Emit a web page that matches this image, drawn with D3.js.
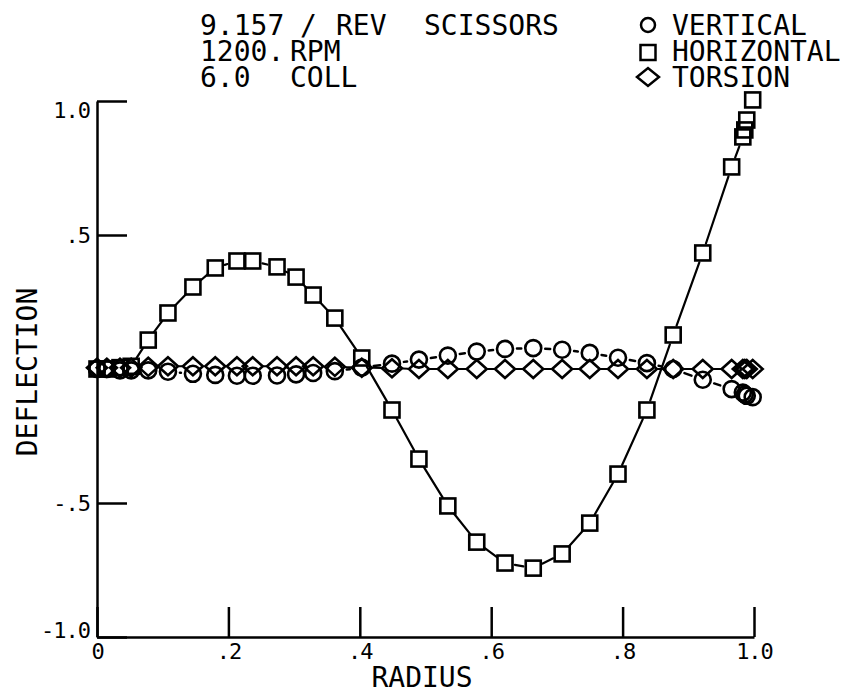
<!DOCTYPE html>
<html>
<head>
<meta charset="utf-8">
<script src="https://cdn.jsdelivr.net/npm/d3@7/dist/d3.min.js"></script>
<style>
body { margin: 0; background: #fff; }
text { font-family: "DejaVu Sans Mono", monospace; fill: #000; }
</style>
</head>
<body>
<svg id="chart" width="844" height="694"></svg>
<script>
// radial stations
var radius = [0, 0.015, 0.035, 0.052, 0.078, 0.108, 0.146, 0.180, 0.213, 0.237, 0.274, 0.303, 0.329, 0.362,
              0.403, 0.449, 0.490, 0.534, 0.578, 0.621, 0.664, 0.708, 0.750, 0.793, 0.837, 0.877, 0.922,
              0.966, 0.983, 0.986, 0.989, 0.998];
var vertical = [0, 0, -0.005, -0.005, -0.005, -0.01, -0.018, -0.022, -0.025, -0.025, -0.024, -0.02, -0.015, -0.008,
                0.005, 0.02, 0.035, 0.05, 0.065, 0.075, 0.078, 0.072, 0.06, 0.042, 0.022, 0.0, -0.04,
                -0.075, -0.088, -0.095, -0.1, -0.105];
var horizontal = [0, 0, 0.005, 0.01, 0.108, 0.209, 0.306, 0.377, 0.403, 0.403, 0.381, 0.343, 0.276, 0.190,
                  0.041, -0.153, -0.336, -0.511, -0.646, -0.724, -0.743, -0.690, -0.575, -0.392, -0.153, 0.127, 0.433,
                  0.754, 0.866, 0.892, 0.929, 1.004];
var torsion = [0.005, 0.005, 0.005, 0.005, 0.008, 0.01, 0.01, 0.01, 0.01, 0.01, 0.01, 0.01, 0.01, 0.008,
               0.005, 0.003, 0, 0, 0, 0, 0, 0, 0, 0, 0, 0, 0,
               0, 0, 0, 0, 0];

var xTicks = [0, 0.2, 0.4, 0.6, 0.8, 1.0];
var xTickLabels = ["0", ".2", ".4", ".6", ".8", "1.0"];
var yTicks = [-1, -0.5, 0.5, 1];
var yTickLabels = ["-1.0", "-.5", ".5", "1.0"];
var titleWords = [["9.157", "/", "REV", "SCISSORS"], ["1200.", "RPM"], ["6.0", "COLL"]];
var legendNames = ["VERTICAL", "HORIZONTAL", "TORSION"];

var svg = d3.select("#chart");
var x = d3.scaleLinear().domain([0, 1]).range([97, 754]);
var y = d3.scaleLinear().domain([-1, 1]).range([637, 101]);

// title block
var wordX = [[200, 300, 336, 424], [200, 290], [200, 290]];
var lineY = [35, 61, 87];
titleWords.forEach(function(words, i){
  words.forEach(function(w, j){
    svg.append("text").attr("x", wordX[i][j]).attr("y", lineY[i])
      .attr("font-size", 28).text(w);
  });
});

// legend
var legend = svg.append("g");
legendNames.forEach(function(name, i){
  legend.append("text").attr("x", 672).attr("y", lineY[i]).attr("font-size", 28).text(name);
});
var lx = 648;
legend.append("circle").attr("cx", lx).attr("cy", 25).attr("r", 7)
  .attr("fill", "none").attr("stroke", "#000").attr("stroke-width", 2.5);
legend.append("rect").attr("x", lx - 7.5).attr("y", 45).attr("width", 15).attr("height", 15)
  .attr("fill", "none").attr("stroke", "#000").attr("stroke-width", 2.5);
legend.append("path").attr("d", "M" + (lx - 11) + ",77 L" + lx + ",68 L" + (lx + 11) + ",77 L" + lx + ",86 Z")
  .attr("fill", "none").attr("stroke", "#000").attr("stroke-width", 2.5);

// axes
var xAxis = d3.axisBottom(x).tickValues(xTicks)
  .tickFormat(function(d, i){ return xTickLabels[i]; })
  .tickSize(-30).tickSizeOuter(0).tickPadding(6);
var gx = svg.append("g").attr("transform", "translate(0," + y(-1) + ")").call(xAxis);

var yAxis = d3.axisLeft(y).tickValues(yTicks)
  .tickFormat(function(d, i){ return yTickLabels[i]; })
  .tickSize(-30).tickSizeOuter(0).tickPadding(7);
var gy = svg.append("g").attr("transform", "translate(" + x(0) + ",0)").call(yAxis);

[gx, gy].forEach(function(g){
  g.attr("font-family", null).attr("font-size", null);
  g.selectAll("path, line").attr("stroke", "#000").attr("stroke-width", 2.5);
  g.selectAll("text").attr("font-size", 22).attr("fill", "#000").attr("letter-spacing", -1);
});
gy.selectAll(".tick text").attr("dy", function(d){
  if (d === 1) return "0.75em";
  if (d === -1) return "0em";
  return "0.35em";
});

svg.append("text").attr("x", 422).attr("y", 687).attr("text-anchor", "middle")
  .attr("font-size", 28).text("RADIUS");
svg.append("text").attr("transform", "translate(37,372) rotate(-90)").attr("text-anchor", "middle")
  .attr("font-size", 28).text("DEFLECTION");

// connecting segments, cut back so they stop short of the markers
function segments(vals, gap){
  var out = [];
  for (var i = 0; i < radius.length - 1; i++){
    var x1 = x(radius[i]), y1 = y(vals[i]), x2 = x(radius[i + 1]), y2 = y(vals[i + 1]);
    var dx = x2 - x1, dy = y2 - y1, len = Math.sqrt(dx * dx + dy * dy);
    if (len <= 2 * gap + 1) continue;
    var ux = dx / len, uy = dy / len;
    out.push([x1 + ux * gap, y1 + uy * gap, x2 - ux * gap, y2 - uy * gap]);
  }
  return out;
}
function drawSegs(vals, gap, w){
  svg.append("g").selectAll("line").data(segments(vals, gap)).enter().append("line")
    .attr("x1", function(d){ return d[0]; }).attr("y1", function(d){ return d[1]; })
    .attr("x2", function(d){ return d[2]; }).attr("y2", function(d){ return d[3]; })
    .attr("stroke", "#000").attr("stroke-width", w).attr("stroke-linecap", "round");
}
drawSegs(horizontal, 10, 2.2);
drawSegs(vertical, 12, 2.5);
drawSegs(torsion, 11, 2);

var marks = svg.append("g").attr("fill", "none").attr("stroke", "#000").attr("stroke-width", 2.6);
marks.selectAll("circle").data(radius).enter().append("circle")
  .attr("cx", function(d){ return x(d); })
  .attr("cy", function(d, i){ return y(vertical[i]); })
  .attr("r", 8);
marks.selectAll("rect").data(radius).enter().append("rect")
  .attr("x", function(d){ return x(d) - 7.5; })
  .attr("y", function(d, i){ return y(horizontal[i]) - 7.5; })
  .attr("width", 15).attr("height", 15);
marks.selectAll("path").data(radius).enter().append("path")
  .attr("d", function(d, i){
    var cx = x(d), cy = y(torsion[i]);
    return "M" + (cx - 10) + "," + cy + " L" + cx + "," + (cy - 9) + " L" + (cx + 10) + "," + cy + " L" + cx + "," + (cy + 9) + " Z";
  });
</script>
</body>
</html>
